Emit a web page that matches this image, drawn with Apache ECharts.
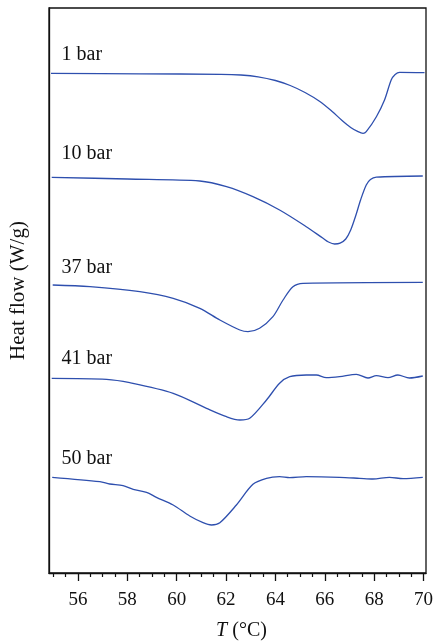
<!DOCTYPE html>
<html>
<head>
<meta charset="utf-8">
<script src="https://cdn.jsdelivr.net/npm/echarts@6/dist/echarts.min.js"></script>
<style>
html,body{margin:0;padding:0;background:#fff;}
#c{width:436px;height:642px;}
</style>
</head>
<body>
<div id="c"></div>
<script>
// Temperature (°C) and heat flow (arbitrary offset units, W/g)
const curve1T = [54.91, 58.5, 61.8, 62.6, 63.3, 64.0, 64.6, 65.2, 65.8, 66.3, 66.7, 67.05, 67.35, 67.55, 67.68, 68.09, 68.42, 68.69, 68.85, 69.03, 70.04];
const curve1Y = [49.97, 49.92, 49.87, 49.80, 49.62, 49.25, 48.75, 48.05, 47.15, 46.15, 45.25, 44.55, 44.13, 43.97, 44.13, 45.63, 47.30, 49.30, 49.85, 50.07, 50.03];

const curve2T = [54.94, 58.0, 60.94, 62.02, 63.09, 64.17, 65.25, 65.93, 66.15, 66.40, 66.62, 66.85, 67.05, 67.25, 67.45, 67.68, 67.85, 68.09, 69.97];
const curve2Y = [39.57, 39.40, 39.20, 38.63, 37.63, 36.30, 34.63, 33.47, 33.10, 32.90, 32.98, 33.40, 34.30, 35.70, 37.30, 38.80, 39.35, 39.58, 39.70];

const curve3T = [54.98, 56.49, 58.51, 59.86, 60.94, 61.75, 62.56, 62.89, 63.36, 63.90, 64.31, 64.71, 65.12, 69.97];
const curve3Y = [28.80, 28.63, 28.13, 27.47, 26.47, 25.30, 24.30, 24.13, 24.47, 25.63, 27.30, 28.63, 28.97, 29.07];

const curve4T = [54.94, 57.16, 58.10, 59.86, 61.21, 62.02, 62.56, 62.96, 63.64, 64.17, 64.58, 65.25, 65.66, 66.06, 66.60, 67.28, 67.75, 68.09, 68.56, 68.96, 69.43, 69.97];
const curve4Y = [19.47, 19.37, 19.03, 17.97, 16.47, 15.63, 15.30, 15.47, 17.30, 18.97, 19.63, 19.80, 19.80, 19.53, 19.63, 19.87, 19.50, 19.73, 19.53, 19.80, 19.50, 19.70];

const curve5T = [54.96, 56.89, 57.29, 57.83, 58.24, 58.78, 59.18, 59.86, 60.53, 61.07, 61.41, 61.75, 62.42, 63.09, 63.64, 64.17, 64.58, 65.25, 66.60, 67.41, 67.95, 68.62, 69.17, 69.97];
const curve5Y = [9.57, 9.13, 8.90, 8.73, 8.37, 8.07, 7.57, 6.80, 5.70, 5.03, 4.80, 5.03, 6.80, 8.87, 9.47, 9.63, 9.53, 9.63, 9.57, 9.47, 9.40, 9.57, 9.43, 9.57];

const seriesNames = ['1 bar', '10 bar', '37 bar', '41 bar', '50 bar'];
const labelT = [55.34, 55.34, 55.34, 55.34, 55.34];
const labelY = [51.8, 41.9, 30.5, 21.4, 11.4];

const majorTicks = [56, 58, 60, 62, 64, 66, 68, 70];
const minorTicks = [55, 55.5, 56.5, 57, 57.5, 58.5, 59, 59.5, 60.5, 61, 61.5, 62.5, 63, 63.5, 64.5, 65, 65.5, 66.5, 67, 67.5, 68.5, 69, 69.5];

const curvesT = [curve1T, curve2T, curve3T, curve4T, curve5T];
const curvesY = [curve1Y, curve2Y, curve3Y, curve4Y, curve5Y];

const FONT = 'Liberation Serif';
const chart = echarts.init(document.getElementById('c'), null, {renderer: 'canvas'});

const series = curvesT.map((ts, i) => ({
  name: seriesNames[i],
  type: 'line',
  xAxisIndex: 0,
  data: ts.map((t, j) => [t, curvesY[i][j]]),
  showSymbol: false,
  smooth: 0.3,
  lineStyle: {color: '#2e4fae', width: 1.3},
  silent: true,
  markPoint: {
    symbol: 'circle',
    symbolSize: 0,
    silent: true,
    data: [{coord: [labelT[i], labelY[i]], value: seriesNames[i]}],
    label: {
      show: true,
      position: 'right',
      distance: 0,
      formatter: seriesNames[i],
      color: '#111',
      fontFamily: FONT,
      fontSize: 20
    }
  }
}));

chart.setOption({
  animation: false,
  backgroundColor: '#fff',
  grid: {left: 49, right: 10, top: 8, bottom: 69, containLabel: false, outerBoundsMode: 'none',
         show: true, borderColor: '#111', borderWidth: 1.3, backgroundColor: 'transparent'},
  xAxis: [
    {
      type: 'value', min: 54.83, max: 70.1,
      axisLine: {show: true, lineStyle: {color: '#111', width: 1.3}},
      axisTick: {show: true, customValues: majorTicks, length: 8, lineStyle: {color: '#111', width: 1.3}},
      axisLabel: {show: true, customValues: majorTicks, margin: 18, color: '#111', fontFamily: FONT, fontSize: 19},
      splitLine: {show: false},
      name: '{i|T} ({n|°C})',
      nameLocation: 'middle',
      nameGap: 48,
      nameTextStyle: {
        color: '#111', fontFamily: FONT, fontSize: 20,
        padding: [0, 0, 0, 8],
        rich: {
          i: {fontStyle: 'italic', fontFamily: FONT, fontSize: 20, color: '#111'},
          n: {fontFamily: FONT, fontSize: 20, color: '#111'}
        }
      }
    },
    {
      type: 'value', min: 54.83, max: 70.1, position: 'bottom',
      axisLine: {show: false},
      axisTick: {show: true, customValues: minorTicks, length: 4, lineStyle: {color: '#111', width: 1.2}},
      axisLabel: {show: false},
      splitLine: {show: false}
    }
  ],
  yAxis: {
    type: 'value', min: 0, max: 56.5,
    axisLine: {show: true, lineStyle: {color: '#111', width: 1.3}},
    axisTick: {show: false},
    axisLabel: {show: false},
    splitLine: {show: false},
    name: 'Heat flow (W/g)',
    nameLocation: 'middle',
    nameGap: 20,
    nameTextStyle: {color: '#111', fontFamily: FONT, fontSize: 21}
  },
  series: series.concat([{
    type: 'line', xAxisIndex: 1, data: [], silent: true
  }])
});
</script>
</body>
</html>
